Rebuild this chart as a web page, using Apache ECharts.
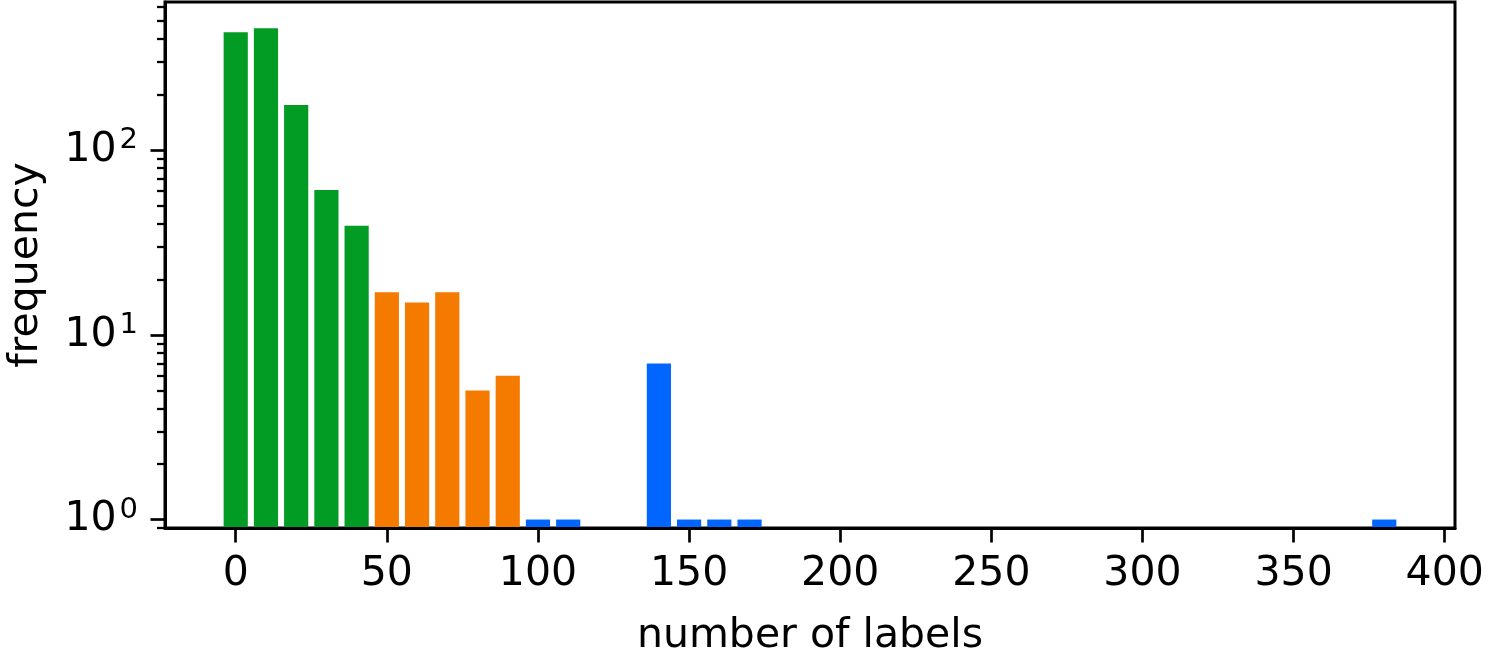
<!DOCTYPE html>
<html>
<head>
<meta charset="utf-8">
<script src="https://cdn.jsdelivr.net/npm/echarts@6/dist/echarts.min.js"></script>
<style>
  html, body { margin: 0; padding: 0; background: #fff; }
  #chart { width: 1500px; height: 660px; }
</style>
</head>
<body>
<div id="chart"></div>
<script>
// ---- data ----
const binsGreen = [0, 10, 20, 30, 40];
const valsGreen = [436, 458, 176, 61, 39];
const binsOrange = [50, 60, 70, 80, 90];
const valsOrange = [17, 15, 17, 5, 6];
const binsBlue = [100, 110, 140, 150, 160, 170, 380];
const valsBlue = [1, 1, 7, 1, 1, 1, 1];
const xTicks = [0, 50, 100, 150, 200, 250, 300, 350, 400];
const yMajorTicks = [1, 10, 100];
const yMinorTicks = [0.9, 2, 3, 4, 5, 6, 7, 8, 9, 20, 30, 40, 50, 60, 70, 80, 90, 200, 300, 400, 500, 600];

// ---- style / layout constants ----
const X_MIN = -23.4, X_MAX = 403.4;
const Y_MIN = 0.9, Y_MAX = 635;
const BAR_W = 8;
const FONT = 'DejaVu Sans';
const COLORS = { green: '#029C24', orange: '#F57A00', blue: '#0066FF' };

function pairs(xs, vs) { return xs.map((x, i) => [x, vs[i]]); }

function renderItem(params, api) {
  const x = api.value(0), v = api.value(1);
  const p1 = api.coord([x - BAR_W / 2, v]);
  const p2 = api.coord([x + BAR_W / 2, Y_MIN]);
  return {
    type: 'rect',
    shape: { x: p1[0], y: p1[1], width: p2[0] - p1[0], height: p2[1] - p1[1] },
    style: { fill: api.visual('color') }
  };
}

function barSeries(name, xs, vs, color) {
  return {
    name: name, type: 'custom', renderItem: renderItem,
    data: pairs(xs, vs), encode: { x: 0, y: 1 },
    itemStyle: { color: color }, z: 1, xAxisIndex: 0, yAxisIndex: 0
  };
}

const chart = echarts.init(document.getElementById('chart'), null, { renderer: 'canvas' });
chart.setOption({
  animation: false,
  backgroundColor: '#fff',
  textStyle: { fontFamily: FONT },
  grid: {
    left: 165, right: 45, top: 2, bottom: 132,
    containLabel: false, outerBoundsMode: 'none',
    show: true, borderColor: '#000', borderWidth: 3, backgroundColor: 'transparent'
  },
  xAxis: [{
    type: 'value', min: X_MIN, max: X_MAX, z: 5,
    name: 'number of labels', nameLocation: 'middle', nameGap: 88,
    nameTextStyle: { fontFamily: FONT, fontSize: 41, color: '#000' },
    axisLine: { show: true, onZero: false, lineStyle: { color: '#000', width: 3 } },
    axisTick: { show: true, length: 14.5, lineStyle: { color: '#000', width: 2.7 }, customValues: xTicks },
    axisLabel: { show: true, fontFamily: FONT, fontSize: 41, color: '#000', margin: 26, customValues: xTicks },
    splitLine: { show: false }
  }],
  yAxis: [{
    type: 'log', logBase: 10, min: Y_MIN, max: Y_MAX, z: 5, position: 'left',
    name: 'frequency', nameLocation: 'middle', nameGap: 118,
    nameTextStyle: { fontFamily: FONT, fontSize: 41, color: '#000' },
    axisLine: { show: true, onZero: false, lineStyle: { color: '#000', width: 3 } },
    axisTick: { show: true, length: 14.5, lineStyle: { color: '#000', width: 2.7 }, customValues: yMajorTicks },
    axisLabel: {
      show: true, margin: 27, color: '#000', customValues: yMajorTicks,
      formatter: function (v) {
        const e = Math.round(Math.log10(v));
        return '{b|10}{s|' + e + '}';
      },
      rich: {
        b: { fontFamily: FONT, fontSize: 41, color: '#000', lineHeight: 48 },
        s: { fontFamily: FONT, fontSize: 29, color: '#000', lineHeight: 28, verticalAlign: 'top', padding: [0, 0, 0, 3] }
      }
    },
    splitLine: { show: false }
  }, {
    type: 'log', logBase: 10, min: Y_MIN, max: Y_MAX, z: 5, position: 'left',
    axisLine: { show: false, onZero: false },
    axisTick: { show: true, length: 8, lineStyle: { color: '#000', width: 2.3 }, customValues: yMinorTicks },
    axisLabel: { show: false },
    splitLine: { show: false }
  }],
  series: [
    barSeries('green', binsGreen, valsGreen, COLORS.green),
    barSeries('orange', binsOrange, valsOrange, COLORS.orange),
    barSeries('blue', binsBlue, valsBlue, COLORS.blue)
  ]
});
</script>
</body>
</html>
